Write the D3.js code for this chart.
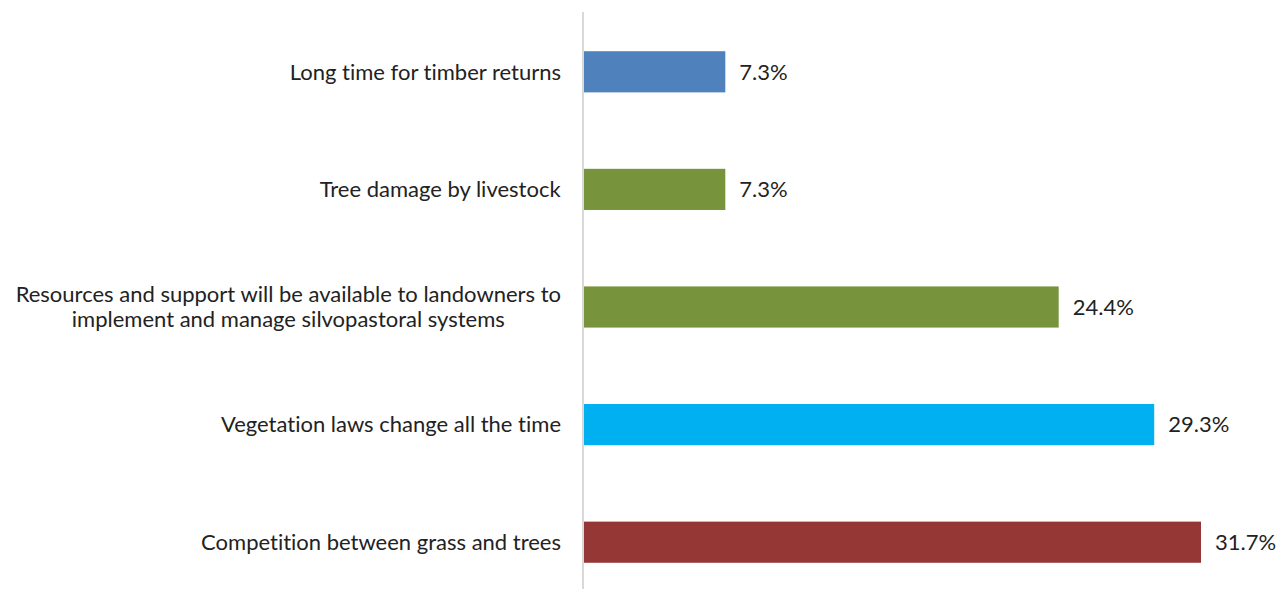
<!DOCTYPE html>
<html>
<head>
<meta charset="utf-8">
<script src="https://cdn.jsdelivr.net/npm/d3@7"></script>
<style>
  body { margin: 0; background: #fff; }
  text { font-family: Lato, "Open Sans", sans-serif; fill: #222; font-variant-ligatures: none; }
</style>
</head>
<body>
<div id="chart"></div>
<script>
// data, top to bottom
var categories = [
  ['Long time for timber returns'],
  ['Tree damage by livestock'],
  ['Resources and support will be available to landowners to', 'implement and manage silvopastoral systems'],
  ['Vegetation laws change all the time'],
  ['Competition between grass and trees']
];
var values = [7.3, 7.3, 24.4, 29.3, 31.7];
var colors = ['#4F81BD', '#77933C', '#77933C', '#00B0F0', '#953735'];

var width = 1285, height = 589;
var axisX = 583;

var svg = d3.select('#chart').append('svg')
    .attr('width', width)
    .attr('height', height);

var x = d3.scaleLinear()
    .domain([0, 31.7])
    .range([axisX, 1201]);

var y = d3.scaleBand()
    .domain(d3.range(values.length))
    .range([13, 601])
    .paddingInner(0.65)
    .paddingOuter(0.325);

svg.selectAll('rect.bar')
    .data(values)
    .enter().append('rect')
    .attr('class', 'bar')
    .attr('x', x(0))
    .attr('y', function(d, i){ return y(i); })
    .attr('width', function(d){ return x(d) - x(0); })
    .attr('height', y.bandwidth())
    .style('fill', function(d, i){ return colors[i]; });

// value labels
svg.selectAll('text.val')
    .data(values)
    .enter().append('text')
    .attr('class', 'val')
    .attr('x', function(d){ return x(d) + 14; })
    .attr('y', function(d, i){ return y(i) + y.bandwidth() / 2; })
    .attr('dy', '0.35em')
    .style('font-size', '22px')
    .text(function(d){ return d.toFixed(1) + '%'; });

// category labels
var lab = svg.selectAll('text.cat')
    .data(categories)
    .enter().append('text')
    .attr('class', 'cat')
    .attr('text-anchor', 'middle')
    .style('font-size', '22px')
    .attr('transform', function(d, i){
        return 'translate(0,' + (y(i) + y.bandwidth() / 2) + ')';
    });

lab.each(function(lines){
    var t = d3.select(this);
    var n = lines.length;
    lines.forEach(function(s, j){
        t.append('tspan')
            .attr('x', 0)
            .attr('y', (j - (n - 1) / 2) * 25)
            .attr('dy', '0.35em')
            .text(s);
    });
});

// right-align the block but center lines within it (like the reference)
lab.each(function(){
    var bb = this.getBBox();
    var cx = 561 - bb.width / 2;
    d3.select(this).selectAll('tspan').attr('x', cx);
});

// vertical axis line
svg.append('line')
    .attr('x1', axisX).attr('x2', axisX)
    .attr('y1', 12).attr('y2', 590)
    .style('stroke', '#d9d9d9')
    .style('stroke-width', '2px');
</script>
</body>
</html>
